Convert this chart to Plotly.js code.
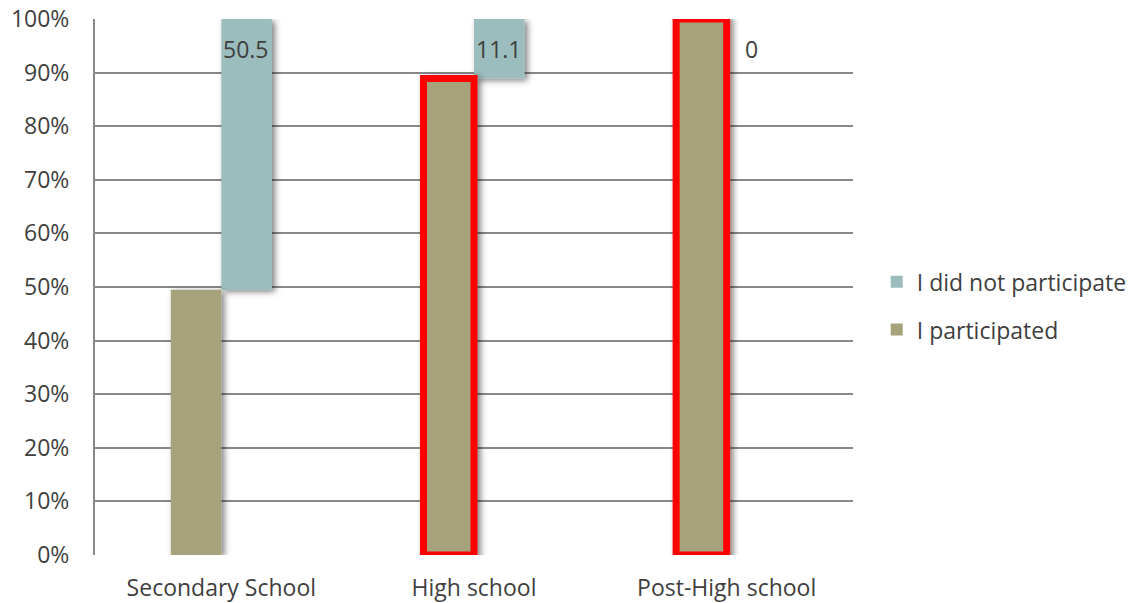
<!DOCTYPE html>
<html>
<head>
<meta charset="utf-8">
<script src="https://cdn.plot.ly/plotly-3.0.1.min.js"></script>
<style>
  html, body { margin: 0; padding: 0; background: #fff; }
  #chart { width: 1132px; height: 603px; }
</style>
</head>
<body>
<div id="chart"></div>
<script>
// Participation by school level (percent of respondents)
const levels = ['Secondary School', 'High school', 'Post-High school'];
const participated = [49.5, 88.9, 100];
const notParticipated = [50.5, 11.1, 0];
const highlighted = [false, true, true];   // levels outlined in red
const yTicks = [0, 10, 20, 30, 40, 50, 60, 70, 80, 90, 100];

const txt = '#3f3f3f';
const font = '"Open Sans", "Noto Sans", sans-serif';
const fs = 23;

// the "did not participate" block sits on top of the "participated" one
const baseTop = participated.slice();

const traces = [
  {
    type: 'bar',
    name: 'I did not participate',
    x: levels,
    y: notParticipated,
    base: baseTop,
    offset: 0,
    width: 0.2,
    marker: { color: '#9BBDBD', line: { width: 0 } },
    legendgroup: 'a',
    hoverinfo: 'skip'
  },
  {
    type: 'bar',
    name: 'I participated',
    x: levels,
    y: participated,
    offset: -0.2,
    width: 0.2,
    marker: {
      color: '#A6A37B',
      line: {
        color: highlighted.map(h => h ? '#FF0000' : 'rgba(0,0,0,0)'),
        width: highlighted.map(h => h ? 7 : 0)
      }
    },
    cliponaxis: false,
    legendgroup: 'b',
    hoverinfo: 'skip'
  }
];

// value labels near the top of each "did not participate" block
const annotations = levels.map((lv, i) => ({
  x: lv,
  y: baseTop[i] + notParticipated[i],
  xref: 'x', yref: 'y',
  text: String(notParticipated[i]),
  showarrow: false,
  xshift: 25,
  yshift: -30,
  font: { family: font, size: fs, color: txt }
}));

const layout = {
  width: 1132,
  height: 603,
  margin: { l: 95, r: 279, t: 19, b: 48 },
  paper_bgcolor: '#fff',
  plot_bgcolor: '#fff',
  barmode: 'overlay',
  font: { family: font, size: fs, color: txt },
  showlegend: true,
  legend: {
    xref: 'container', yref: 'container',
    x: 0.7745, y: 0.493,
    xanchor: 'left', yanchor: 'middle',
    traceorder: 'grouped',
    tracegroupgap: 15,
    font: { family: font, size: fs, color: txt },
    bgcolor: 'rgba(0,0,0,0)'
  },
  xaxis: {
    type: 'category',
    showgrid: false,
    showline: false,
    zeroline: false,
    ticks: '',
    ticklabelstandoff: 17,
    tickfont: { family: font, size: fs, color: txt }
  },
  yaxis: {
    range: [0, 100],
    tickvals: yTicks,
    ticktext: yTicks.map(v => v + '%'),
    showgrid: true,
    gridcolor: '#888888',
    gridwidth: 2,
    showline: true,
    linecolor: '#888888',
    linewidth: 2,
    zeroline: false,
    ticks: '',
    ticklabelstandoff: 19,
    tickfont: { family: font, size: fs, color: txt }
  },
  annotations: annotations
};

function addShadows(gd) {
  const svg = gd.querySelector('.main-svg');
  if (!svg) return;
  if (!svg.querySelector('#barShadow')) {
    const ns = 'http://www.w3.org/2000/svg';
    const defs = document.createElementNS(ns, 'defs');
    const f = document.createElementNS(ns, 'filter');
    f.setAttribute('id', 'barShadow');
    f.setAttribute('x', '-30%'); f.setAttribute('y', '-10%');
    f.setAttribute('width', '170%'); f.setAttribute('height', '130%');
    const ds = document.createElementNS(ns, 'feDropShadow');
    ds.setAttribute('dx', '3'); ds.setAttribute('dy', '2');
    ds.setAttribute('stdDeviation', '3');
    ds.setAttribute('flood-color', '#000');
    ds.setAttribute('flood-opacity', '0.5');
    f.appendChild(ds);
    defs.appendChild(f);
    svg.insertBefore(defs, svg.firstChild);
  }
  gd.querySelectorAll('.barlayer .point path').forEach(p => {
    p.setAttribute('filter', 'url(#barShadow)');
  });
}

const gd = document.getElementById('chart');
Plotly.newPlot(gd, traces, layout, { displayModeBar: false, staticPlot: true })
  .then(() => addShadows(gd));
</script>
</body>
</html>
